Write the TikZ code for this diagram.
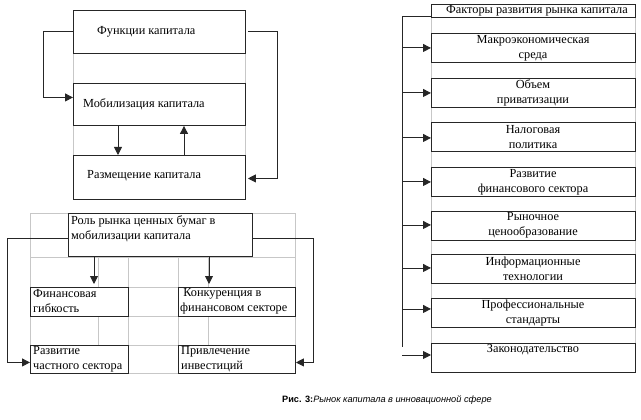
\documentclass[tikz,border=0pt]{standalone}
\usepackage{fontspec}
\setmainfont{Liberation Serif}
\setsansfont{Liberation Sans}
\usetikzlibrary{arrows.meta,calc}
\begin{document}
\begin{tikzpicture}[x=1pt,y=-1pt,
  box/.style={draw=black!85,line width=0.9pt,fill=white,inner sep=0pt},
  grid/.style={draw=black!22,line width=0.7pt},
  txt/.style={font=\fontsize{12.3}{15}\selectfont,inner sep=0pt,align=left,anchor=west},
  ctxt/.style={font=\fontsize{12.3}{15}\selectfont,inner sep=0pt,align=center},
  conn/.style={draw=black!85,line width=0.9pt},
  arr/.style={conn,-{Triangle[length=8pt,width=8pt]}}]
\useasboundingbox (0,0) rectangle (641,420);
% ---------- top-left group ----------
\draw[grid] (73,10) rectangle (245,199);
\node[box,minimum width=172pt,minimum height=43pt,anchor=north west] (f) at (73,10) {};
\node[box,minimum width=172pt,minimum height=42pt,anchor=north west] (m) at (73,83) {};
\node[box,minimum width=172pt,minimum height=44pt,anchor=north west] (r) at (73,155) {};
\node[txt] (ft) at (97,32) {Функции капитала};
\node[txt] (mt) at (83,104) {Мобилизация капитала};
\node[txt] (rt) at (87,176) {Размещение капитала};
\draw[arr] (f.west) -- ++(-30,0) |- ($(m.west)+(0,-7)$);
\draw[arr] ($(f.east)+(2,0)$) -- ++(30,0) |- ($(r.east)+(2,1)$);
\draw[arr] ($(m.south west)+(45,0)$) -- ($(r.north west)+(45,0)$);
\draw[arr] ($(r.north west)+(111,0)$) -- ($(m.south west)+(111,0)$);
% ---------- bottom-left group ----------
\draw[grid] (30,213) rectangle (295,373);
\foreach \yy in {257,287,316,345} \draw[grid] (30,\yy) -- (295,\yy);
\draw[grid] (98,257) -- (98,373);
\draw[grid] (208,257) -- (208,373);
\draw[grid] (128,213) -- (128,373);
\draw[grid] (178,257) -- (178,373);
\node[box,minimum width=184pt,minimum height=43pt,anchor=north west] (rl) at (68,213) {};
\node[box,minimum width=98pt,minimum height=29pt,anchor=north west] (fg) at (30,287) {};
\node[box,minimum width=117pt,minimum height=29pt,anchor=north west] (kn) at (178,287) {};
\node[box,minimum width=98pt,minimum height=28pt,anchor=north west] (rz) at (30,345) {};
\node[box,minimum width=117pt,minimum height=28pt,anchor=north west] (pv) at (178,345) {};
\node[txt] (rlt) at (71,228.5) {Роль рынка ценных бумаг в\\мобилизации капитала};
\node[txt] (fgt) at (33,301) {Финансовая\\гибкость};
\node[txt] (knt) at (180,301) {\ Конкуренция в\\финансовом секторе};
\node[txt] (rzt) at (33,359.5) {Развитие\\частного сектора};
\node[txt] (pvt) at (181,359.5) {Привлечение\\инвестиций};
\draw[arr] ($(rl.west)+(0,3)$) -- ++(-61,0) |- ($(rz.west)+(0,3)$);
\draw[arr] ($(rl.east)+(0,3)$) -- ++(61,0) |- ($(pv.east)+(0,3)$);
\draw[arr] ($(rl.south west)+(26,0)$) -- ($(fg.north west)+(64,-3)$);
\draw[arr] ($(rl.south west)+(141,0)$) -- ($(kn.north west)+(31,-3)$);
% ---------- right group ----------
\draw[grid] (431,4) rectangle (635,372);
\node[box,minimum width=204pt,minimum height=13pt,anchor=north west] (fk) at (431,4) {};
\node[ctxt] (fkt) at (537,11) {Факторы развития рынка капитала};
\node[box,minimum width=204pt,minimum height=29pt,anchor=north west] (b1) at (431,33) {};
\node[box,minimum width=204pt,minimum height=29pt,anchor=north west] (b2) at (431,78) {};
\node[box,minimum width=204pt,minimum height=29pt,anchor=north west] (b3) at (431,122) {};
\node[box,minimum width=204pt,minimum height=29pt,anchor=north west] (b4) at (431,167) {};
\node[box,minimum width=204pt,minimum height=29pt,anchor=north west] (b5) at (431,211) {};
\node[box,minimum width=204pt,minimum height=29pt,anchor=north west] (b6) at (431,254) {};
\node[box,minimum width=204pt,minimum height=29pt,anchor=north west] (b7) at (431,298) {};
\node[box,minimum width=204pt,minimum height=29pt,anchor=north west] (b8) at (431,343) {};
\node[ctxt] (b1t) at (533,48.5) {Макроэкономическая\\среда};
\node[ctxt] (b2t) at (533,93) {Объем\\приватизации};
\node[ctxt] (b3t) at (533,137) {Налоговая\\политика};
\node[ctxt] (b4t) at (533,182) {Развитие\\финансового сектора};
\node[ctxt] (b5t) at (533,225.5) {Рыночное\\ценообразование};
\node[ctxt] (b6t) at (533,269) {Информационные\\технологии};
\node[ctxt] (b7t) at (533,313) {Профессиональные\\стандарты};
\node[ctxt] (b8t) at (533,350) {Законодательство};
\coordinate (vtop) at (402,16);
\coordinate (vbot) at (402,347);
\coordinate (lastin) at (402,355);
\draw[conn] (fk.west |- vtop) -- (vtop) -- (vbot);
\foreach \b/\dy in {b1/0,b2/0,b3/1,b4/0,b5/-1,b6/-1,b7/-4} {
  \draw[arr] (vtop |- {$(\b.west)+(0,\dy)$}) -- ($(\b.west)+(0,\dy)$);
}
\draw[arr] (lastin) -- (b8.west |- lastin);
% ---------- caption ----------
\node[inner sep=0pt,anchor=west,font=\sffamily\fontsize{9.2}{11}\selectfont] (cap) at (282,400)
  {\textbf{Рис. 3:}\textit{Рынок капитала в инновационной сфере}};
\end{tikzpicture}
\end{document}
